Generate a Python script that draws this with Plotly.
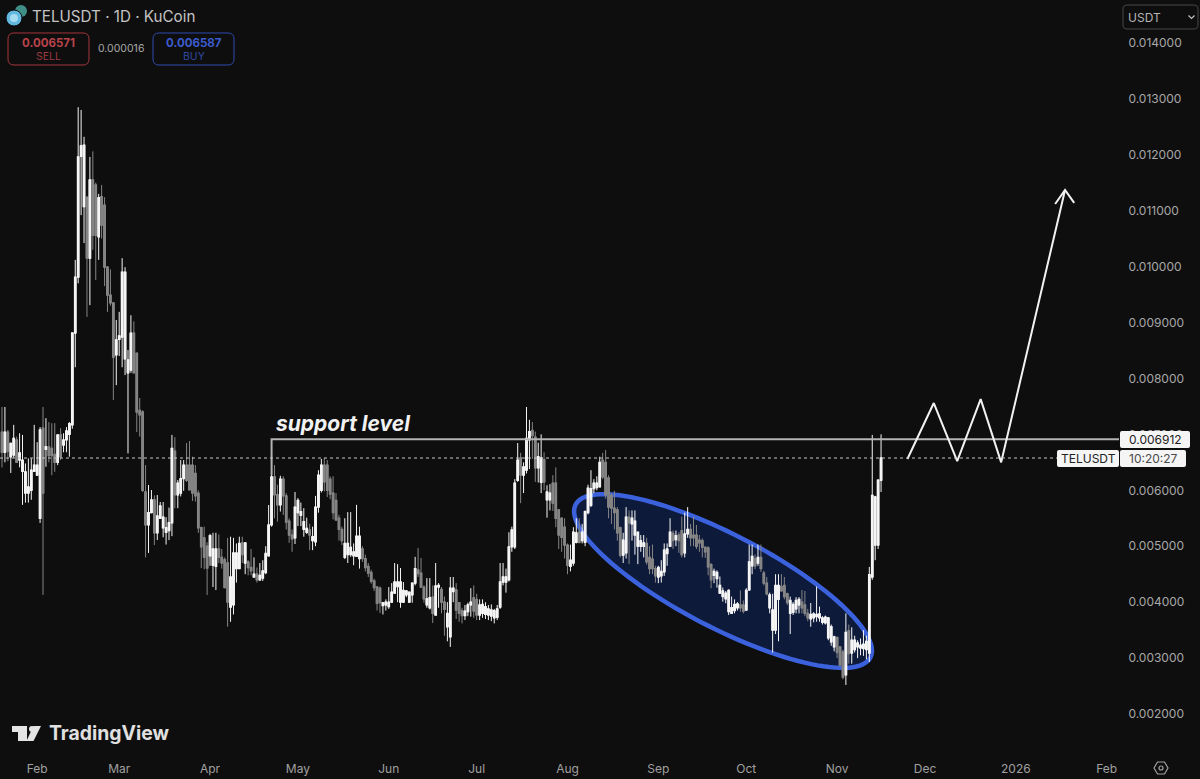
import numpy as np
import pandas as pd
import plotly.graph_objects as go

BG = "#0e0e0e"
W, H = 1200, 779
PLOT_R, PLOT_B = 1119, 752

# daily candles, prices in millionths of USDT, first candle is 2025-01-20
first_day = "2025-01-20"
opens = [
    7040, 6680, 7040, 6600, 6630, 6900, 6540, 6340, 5950, 5950,
    6000, 6340, 6270, 5500, 7110, 6730, 6775, 6750, 6640, 6500,
    6990, 6810, 6900, 7000, 7170, 8812, 9810, 11970, 11070, 11240,
    10150, 11550, 11460, 10530, 11250, 11100, 9990, 9490, 9350, 8420,
    8700, 8740, 8350, 8100, 8150, 8810, 8450, 7430, 7400, 5970,
    5380, 5600, 5830, 5240, 5500, 5330, 5250, 5280, 5420, 6700,
    5920, 5950, 6210, 6450, 6450, 6450, 6300, 5950, 5330, 5150,
    5000, 4830, 4660, 4640, 4950, 4800, 4760, 4700, 3910, 3950,
    4600, 4600, 5060, 4700, 4720, 4620, 4450, 4500, 4400, 4430,
    4530, 4830, 5380, 6240, 5920, 5740, 6200, 5900, 5450, 5200,
    5150, 5600, 5550, 5300, 5250, 5290, 5100, 5080, 5700, 6000,
    6450, 6450, 6200, 5950, 5820, 5500, 5300, 4800, 4850, 4850,
    4830, 4820, 4780, 4950, 4780, 4640, 4530, 4380, 4270, 4250,
    3940, 3950, 3920, 4000, 4160, 4280, 4000, 4000, 4130, 4000,
    4130, 4340, 4575, 4520, 4270, 3950, 3900, 4090, 3770, 4270,
    4230, 4000, 3560, 3380, 4190, 4217, 3990, 3850, 3760, 3830,
    3950, 4080, 4050, 3770, 3800, 3780, 3770, 3750, 3720, 3730,
    3910, 4360, 4360, 4400, 4990, 4990, 6180, 6577, 6270, 6360,
    6900, 7070, 6950, 6400, 6140, 6550, 5830, 5830, 6130, 6130,
    5650, 5500, 5340, 5020, 4640, 4700, 5070, 5250, 5100, 5070,
    5600, 5730, 6030, 6050, 6060, 6540, 6500, 6220, 5910, 5680,
    5650, 5330, 4840, 4880, 5520, 5400, 5200, 5000, 5000, 5000,
    5050, 4800, 4770, 4600, 4450, 4470, 4540, 4870, 5000, 5230,
    5120, 5200, 5280, 4880, 5220, 5300, 5200, 5200, 5110, 5100,
    4980, 4970, 4670, 4480, 4420, 4160, 4100, 4060, 3830, 3800,
    3850, 3900, 3950, 3950, 3860, 4220, 4650, 4780, 4700, 4800,
    4520, 4340, 3900, 3500, 3500, 4050, 4280, 4300, 4150, 3800,
    3820, 3880, 3950, 4000, 3950, 3800, 3700, 3720, 3740, 3720,
    3640, 3630, 3360, 3290, 3200, 3370, 3200, 3110, 2700, 3490,
    3090, 3150, 3200, 3180, 3170, 3150, 3090, 4450, 5020, 5020,
    6180,
]
highs = [
    7490, 7490, 7080, 6850, 7170, 6960, 7020, 6990, 6480, 6570,
    6570, 7170, 6860, 7130, 7490, 7290, 7220, 7200, 7200, 7000,
    7110, 7020, 7130, 7220, 8812, 10120, 12850, 12800, 12320, 11240,
    11960, 12060, 11500, 11300, 11460, 11240, 10010, 9950, 9350, 9045,
    9190, 10150, 9990, 8510, 9130, 9020, 8450, 7650, 7430, 6450,
    6095, 6005, 5910, 5915, 5790, 5790, 5520, 5690, 6990, 6950,
    6184, 6540, 6540, 6845, 6880, 6600, 6450, 6000, 5350, 5350,
    5070, 5220, 5240, 5240, 5210, 4950, 4800, 5150, 5170, 5150,
    5050, 5170, 5170, 5060, 4750, 4950, 4800, 4620, 4700, 4750,
    5000, 5737, 6542, 6450, 6100, 6260, 6250, 5950, 5500, 5300,
    5970, 5860, 5780, 5680, 5510, 5400, 5350, 5900, 6360, 6560,
    6577, 6540, 6250, 6250, 5950, 5560, 5350, 5500, 5610, 5610,
    5050, 5740, 5350, 5000, 4850, 4700, 4580, 4420, 4290, 4280,
    4000, 4050, 4270, 4340, 4700, 4680, 4610, 4360, 4217, 4180,
    4350, 4810, 4970, 4790, 4300, 4430, 4430, 4300, 4700, 4340,
    4270, 4100, 4000, 4450, 4450, 4340, 4000, 3900, 3950, 3990,
    4250, 4300, 4150, 4050, 4050, 4000, 3950, 3960, 3880, 3950,
    4700, 4700, 4600, 5250, 5350, 6200, 6845, 6670, 6500, 7490,
    7260, 7220, 7050, 6850, 7000, 6680, 6090, 6110, 6270, 6410,
    5650, 5500, 5500, 5050, 5030, 5340, 5500, 5500, 5400, 5640,
    6100, 6360, 6200, 6250, 6600, 6670, 6720, 6270, 5950, 5990,
    5700, 5350, 5240, 5700, 5640, 5640, 5640, 5250, 5200, 5200,
    5150, 5000, 5030, 4650, 4650, 4750, 5050, 5050, 5500, 5280,
    5280, 5250, 5530, 5600, 5700, 5400, 5530, 5380, 5200, 5140,
    5000, 5000, 4700, 4600, 4570, 4460, 4260, 4200, 4230, 4100,
    4050, 4000, 4210, 4030, 4250, 5030, 5030, 4850, 5030, 5030,
    4560, 4450, 4170, 4150, 4500, 4500, 4500, 4450, 4170, 4100,
    4000, 4090, 4090, 4217, 4200, 3880, 3985, 3820, 4280, 3920,
    3750, 3760, 3730, 3600, 3400, 3380, 3200, 3150, 3800, 3600,
    3550, 3400, 3320, 3350, 3500, 3400, 4630, 6990, 5900, 6200,
    7000,
]
lows = [
    6410, 6500, 6520, 6310, 6580, 6490, 6410, 5740, 5780, 5780,
    5830, 6340, 6270, 5415, 4130, 6420, 6500, 6270, 6330, 6450,
    6540, 6680, 6680, 6600, 7100, 8200, 9700, 10920, 10420, 9100,
    9310, 10300, 9760, 10120, 10500, 9650, 9190, 9300, 7614, 7880,
    8400, 8200, 8060, 6660, 8100, 8100, 7040, 6960, 5970, 4800,
    4880, 5590, 5020, 5110, 5500, 5160, 5030, 5110, 5180, 5680,
    5680, 5890, 5990, 6150, 6000, 5810, 5800, 5240, 4610, 4590,
    4130, 4650, 4270, 4217, 4700, 4600, 4250, 3560, 3650, 3780,
    4350, 4600, 4700, 4500, 4480, 4480, 4450, 4350, 4380, 4380,
    4500, 4820, 5350, 5500, 5440, 5620, 5560, 5300, 5060, 4900,
    5040, 5360, 5360, 5170, 5220, 4930, 4930, 5000, 5600, 5960,
    5980, 5880, 5840, 5480, 5450, 5100, 5020, 4770, 4700, 4810,
    4660, 4820, 4600, 4720, 4550, 4450, 4330, 4200, 3850, 3806,
    3780, 3850, 3880, 3985, 4150, 4000, 3900, 3985, 4090, 3990,
    3990, 4300, 4450, 4270, 3990, 3900, 3870, 3627, 3770, 3900,
    3800, 3400, 3300, 3200, 4000, 3700, 3650, 3620, 3680, 3750,
    3740, 3720, 3680, 3680, 3720, 3700, 3680, 3660, 3620, 3680,
    3880, 4300, 4170, 4370, 4900, 4950, 6150, 5770, 5950, 6300,
    6380, 6560, 6150, 6140, 5950, 6000, 5510, 5640, 5630, 5340,
    4950, 4900, 4780, 4500, 4550, 4650, 5050, 5050, 5050, 5000,
    5570, 5700, 5950, 6000, 6060, 6200, 5850, 5500, 5400, 5300,
    5100, 4800, 4700, 4780, 4680, 5100, 4850, 4680, 4900, 4800,
    4670, 4500, 4500, 4350, 4340, 4350, 4470, 4650, 5000, 4950,
    5000, 4880, 4800, 4800, 5150, 5000, 5000, 4950, 4900, 4800,
    4790, 4480, 4250, 4340, 4260, 4150, 4010, 3980, 3770, 3790,
    3800, 3850, 3830, 3800, 3850, 4200, 4500, 4590, 4650, 4540,
    4300, 4120, 3800, 3100, 3430, 3300, 4200, 4050, 3950, 3430,
    3770, 3800, 3800, 3800, 3750, 3660, 3560, 3640, 3650, 3650,
    3600, 3600, 3320, 3220, 3120, 3000, 2850, 2620, 2520, 2900,
    2900, 3100, 3000, 3050, 3040, 2980, 2930, 4400, 4750, 4950,
    5970,
]
closes = [
    6680, 7040, 6700, 6840, 6930, 6500, 6670, 6540, 6330, 6060,
    6360, 6450, 6450, 7080, 5950, 6780, 6620, 6620, 6500, 6990,
    6600, 6900, 7060, 7190, 8812, 9810, 11960, 12160, 12170, 10150,
    11550, 10560, 10560, 11230, 10740, 9990, 9490, 9350, 8380, 8690,
    8760, 9900, 9900, 8330, 8810, 8100, 7400, 7350, 6000, 5380,
    5600, 5830, 5240, 5540, 5720, 5520, 5330, 5420, 6750, 5920,
    6130, 6210, 6450, 6180, 6010, 5950, 5900, 5330, 4990, 4800,
    4610, 5190, 4950, 4950, 4800, 4700, 4260, 4000, 4450, 4880,
    4880, 5050, 4850, 5060, 4620, 4560, 4500, 4400, 4480, 4560,
    4870, 5380, 6240, 5920, 5740, 6200, 5900, 5430, 5200, 5130,
    5700, 5820, 5620, 5440, 5320, 5200, 5170, 5700, 6270, 6450,
    6150, 6000, 5930, 5600, 5470, 5300, 5100, 5050, 5050, 4980,
    4900, 5180, 5180, 4780, 4620, 4520, 4370, 4260, 3980, 3990,
    3990, 4000, 4000, 4180, 4360, 4360, 4360, 4210, 4200, 4180,
    4340, 4600, 4510, 4270, 4060, 4060, 4080, 3800, 4290, 4300,
    4000, 3870, 3800, 4250, 4250, 3860, 3800, 3760, 3840, 3950,
    4000, 3840, 3770, 3950, 3960, 3920, 3880, 3860, 3850, 3880,
    4360, 4450, 4450, 4990, 5290, 6130, 6540, 6270, 6420, 6930,
    7050, 6980, 6400, 6600, 6580, 6150, 5970, 5950, 5770, 5500,
    5200, 5160, 5020, 4660, 4750, 5250, 5240, 5070, 5250, 5620,
    6040, 6030, 6130, 6130, 6500, 6240, 5920, 5700, 5680, 5600,
    5240, 4840, 5110, 5520, 5420, 5500, 5450, 5250, 5100, 5060,
    4720, 4600, 4600, 4470, 4620, 4550, 4930, 4950, 5250, 5100,
    5190, 5100, 4850, 5220, 5300, 5150, 5150, 5000, 5060, 4980,
    4900, 4630, 4400, 4550, 4530, 4300, 4200, 4160, 4210, 3900,
    3960, 3970, 3900, 3840, 4210, 4720, 4820, 4650, 4800, 4600,
    4340, 4150, 4130, 3860, 4300, 4300, 4200, 4100, 3990, 4030,
    3960, 4030, 4050, 3900, 3800, 3720, 3780, 3790, 3780, 3790,
    3720, 3730, 3720, 3560, 3380, 3100, 2880, 2660, 3460, 3080,
    3320, 3320, 3270, 3230, 3250, 3300, 4490, 5910, 5880, 6180,
    6577,
]
assert len(opens) == len(highs) == len(lows) == len(closes)

price_ticks = [2000, 3000, 4000, 5000, 6000, 7000, 8000, 9000, 10000, 11000, 12000, 13000, 14000]
time_ticks = ["2025-02-01", "2025-03-01", "2025-04-01", "2025-05-01", "2025-06-01", "2025-07-01",
              "2025-08-01", "2025-09-01", "2025-10-01", "2025-11-01", "2025-12-01", "2026-01-01", "2026-02-01"]
time_labels = ["Feb", "Mar", "Apr", "May", "Jun", "Jul", "Aug", "Sep", "Oct", "Nov", "Dec", "2026", "Feb"]

# the drawings on top of the chart
support_level = 6912
last_price = 6577
support_dates = ["2025-04-22", "2025-04-22", "2026-02-06"]
support_prices = [6270, support_level, support_level]
path_dates = ["2025-11-25", "2025-12-04", "2025-12-12", "2025-12-20", "2025-12-27", "2026-01-17 19:00"]
path_prices = [6560, 7560, 6520, 7630, 6500, 11370]
head_dates = ["2026-01-14 10:00", "2026-01-17 19:00", "2026-01-20 22:00"]
head_prices = [11119, 11370, 11140]

PX_PER_DAY = 2.93
UNITS_PER_PX = 17.88


def to_price(v):
    return np.array(v) / 1e6


days = pd.date_range(first_day, periods=len(closes), freq="D")
body_top = np.maximum(opens, closes)
body_low = np.minimum(opens, closes)

fig = go.Figure()

# thin wicks first, then the same candles again with a heavier outline for the bodies
fig.add_trace(go.Candlestick(
    x=days, open=to_price(opens), high=to_price(highs), low=to_price(lows), close=to_price(closes),
    increasing=dict(line=dict(color="#f5f5f5", width=1), fillcolor="#f5f5f5"),
    decreasing=dict(line=dict(color="#858585", width=1), fillcolor="#858585"),
    whiskerwidth=0, hoverinfo="skip",
))
fig.add_trace(go.Candlestick(
    x=days, open=to_price(opens), high=to_price(body_top), low=to_price(body_low), close=to_price(closes),
    increasing=dict(line=dict(color="#f5f5f5", width=1.3), fillcolor="#f5f5f5"),
    decreasing=dict(line=dict(color="#858585", width=1.3), fillcolor="#858585"),
    whiskerwidth=0, hoverinfo="skip",
))

fig.add_trace(go.Scatter(
    x=support_dates, y=to_price(support_prices), mode="lines",
    line=dict(color="#b4b4b4", width=2), hoverinfo="skip",
))
fig.add_trace(go.Scatter(
    x=path_dates, y=to_price(path_prices), mode="lines",
    line=dict(color="#f2f2f2", width=2), hoverinfo="skip",
))
fig.add_trace(go.Scatter(
    x=head_dates, y=to_price(head_prices), mode="lines",
    line=dict(color="#f2f2f2", width=2), hoverinfo="skip",
))

# tilted channel ellipse, sized in screen pixels, kept under the candles
t = np.linspace(0, 2 * np.pi, 120)
tilt = np.radians(27.4)
dx = 166 * np.cos(t) * np.cos(tilt) - 46.6 * np.sin(t) * np.sin(tilt)
dy = 166 * np.cos(t) * np.sin(tilt) + 46.6 * np.sin(t) * np.cos(tilt)
ell_x = pd.Timestamp(first_day) + pd.to_timedelta(246.07 + dx / PX_PER_DAY, unit="D")
ell_y = to_price(4378 - dy * UNITS_PER_PX)
ell_path = "M " + " L ".join(f"{a.strftime('%Y-%m-%d_%H:%M:%S')},{b:.7f}" for a, b in zip(ell_x, ell_y)) + " Z"
fig.add_shape(type="path", xref="x", yref="y", path=ell_path, fillcolor="#0e1a3a",
              line=dict(color="#3b62dc", width=4.5), layer="below")


# screen pixels to paper fractions, the overlay widgets are fixed to the window
def px(x):
    return x / PLOT_R


def py(y):
    return (PLOT_B - y) / PLOT_B


def poly(points):
    return "M " + " L ".join(f"{px(x):.5f},{py(y):.5f}" for x, y in points) + " Z"


def round_rect(x0, y0, x1, y1, r):
    return (
        f"M {px(x0 + r):.5f},{py(y0):.5f} L {px(x1 - r):.5f},{py(y0):.5f} "
        f"Q {px(x1):.5f},{py(y0):.5f} {px(x1):.5f},{py(y0 + r):.5f} "
        f"L {px(x1):.5f},{py(y1 - r):.5f} Q {px(x1):.5f},{py(y1):.5f} {px(x1 - r):.5f},{py(y1):.5f} "
        f"L {px(x0 + r):.5f},{py(y1):.5f} Q {px(x0):.5f},{py(y1):.5f} {px(x0):.5f},{py(y1 - r):.5f} "
        f"L {px(x0):.5f},{py(y0 + r):.5f} Q {px(x0):.5f},{py(y0):.5f} {px(x0 + r):.5f},{py(y0):.5f} Z"
    )


def add_path(path, fill="rgba(0,0,0,0)", line=None, width=1):
    fig.add_shape(type="path", path=path, xref="paper", yref="paper", fillcolor=fill,
                  line=dict(color=line or "rgba(0,0,0,0)", width=width), layer="above")


def add_circle(cx, cy, r, fill="rgba(0,0,0,0)", line=None, width=1):
    fig.add_shape(type="circle", xref="paper", yref="paper",
                  x0=px(cx - r), x1=px(cx + r), y0=py(cy + r), y1=py(cy - r),
                  fillcolor=fill, line=dict(color=line or "rgba(0,0,0,0)", width=width), layer="above")


def add_text(x, y, text, size=12, color="#b0b0b0", anchor="left", font="Inter", **kw):
    fig.add_annotation(x=px(x), y=py(y), xref="paper", yref="paper", text=text, showarrow=False,
                       xanchor=anchor, yanchor="middle", font=dict(size=size, color=color, family=font),
                       borderpad=0, **kw)


# dotted last price line
fig.add_shape(type="line", xref="paper", yref="y", x0=0, x1=px(1057),
              y0=last_price / 1e6, y1=last_price / 1e6,
              line=dict(color="#c8c8c8", width=1, dash="dot"), layer="above")

add_text(275, 423, "<b><i>support level</i></b>", size=21, color="#f2f2f2")

# header
add_circle(21, 11, 6, fill="#3f8f86")
add_circle(14, 18, 8, fill="#63b8e0", line=BG, width=1)
add_circle(14, 18, 4, fill="#a6dcf2")
add_text(31, 16, "TELUSDT · 1D · KuCoin", size=15.2, color="#c4c4c4")
add_path(round_rect(8, 33, 89, 65, 6), line="#a5363c")
add_text(48.5, 43, "<b>0.006571</b>", size=11.5, color="#b8434a", anchor="center")
add_text(48.5, 56, "SELL", size=10.5, color="#9c3a40", anchor="center")
add_text(121, 49, "0.000016", size=10.5, color="#a8a8a8", anchor="center")
add_path(round_rect(153, 33, 234, 65, 6), line="#2f4bb0")
add_text(193.5, 43, "<b>0.006587</b>", size=11.5, color="#3c5bcc", anchor="center")
add_text(193.5, 56, "BUY", size=10.5, color="#2f49a0", anchor="center")

# currency box
add_path(round_rect(1123, 5, 1198, 29, 4), line="#484848")
add_text(1127, 17, "USDT", size=12, color="#b4b4b4")
fig.add_shape(type="path", xref="paper", yref="paper",
              path=f"M {px(1188.5)},{py(15.5)} L {px(1191.5)},{py(18.5)} L {px(1194.5)},{py(15.5)}",
              line=dict(color="#c0c0c0", width=1.2), layer="above")

# price labels on the axis
add_path(round_rect(1120, 431, 1190, 448, 2), fill="#f5f5f5")
add_text(1155, 439.5, "0.006912", size=12, color="#222222", anchor="center")
add_path(round_rect(1057, 450, 1119, 467, 2), fill="#f5f5f5")
add_text(1088, 458.5, "TELUSDT", size=12, color="#222222", anchor="center")
add_path(round_rect(1120, 450, 1186, 467, 2), fill="#f5f5f5")
add_text(1153, 458.5, "10:20:27", size=12, color="#4a4a4a", anchor="center")

# TradingView mark and wordmark
add_path(poly([(12, 726), (27, 726), (27, 741), (18, 741), (18, 732), (12, 732)]), fill="#e4e4e4")
add_circle(32, 729, 3, fill="#e4e4e4")
add_path(poly([(33.5, 726), (41, 726), (33.5, 741), (26.5, 741)]), fill="#e4e4e4")
add_text(48, 733, "<b>TradingView</b>", size=19.4, color="#e0e0e0")

# settings button
add_path(poly([(1154, 768), (1157.5, 762), (1164.5, 762), (1168, 768), (1164.5, 774), (1157.5, 774)]),
         line="#a0a0a0", width=1.2)
add_circle(1161, 768, 2, line="#a0a0a0", width=1.2)

fig.update_layout(
    width=W, height=H,
    margin=dict(l=0, r=W - PLOT_R, t=0, b=H - PLOT_B),
    paper_bgcolor=BG, plot_bgcolor=BG,
    showlegend=False, hovermode=False, dragmode=False,
    font=dict(family="Inter", size=12, color="#a8a8a8"),
    xaxis=dict(
        type="date", range=["2025-01-19 07:40", "2026-02-05 05:00"],
        tickmode="array", tickvals=time_ticks, ticktext=time_labels,
        showgrid=False, zeroline=False, showline=False,
        ticks="outside", ticklen=6, tickcolor=BG, rangeslider=dict(visible=False),
        tickfont=dict(size=12, color="#a0a0a0", family="Inter"),
    ),
    yaxis=dict(
        side="right", range=[0.001321, 0.014766],
        tickmode="array", tickvals=to_price(price_ticks).tolist(), tickformat=".6f",
        showgrid=False, zeroline=False, showline=False,
        ticks="outside", ticklen=6, tickcolor=BG,
        tickfont=dict(size=12, color="#a8a8a8", family="Inter"),
    ),
)

# the page must not add its own margin round the chart
fig.write_html("out.html", config=dict(displayModeBar=False),
               post_script="document.body.style.margin='0';document.body.style.background='#0e0e0e';")
